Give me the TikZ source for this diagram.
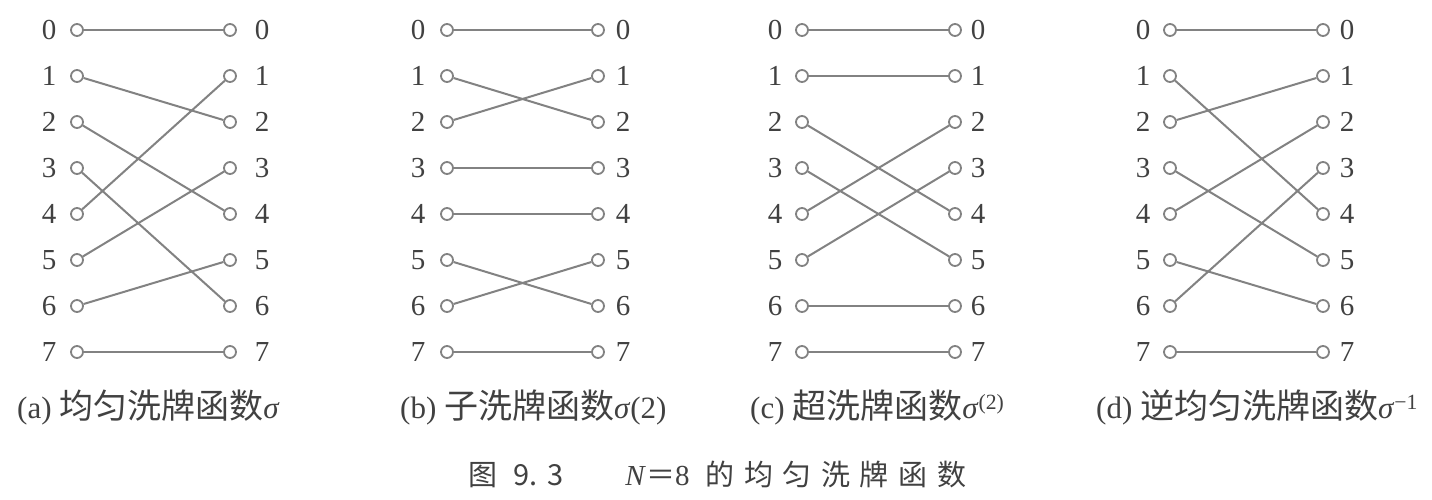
\documentclass[tikz,border=0pt]{standalone}
\usepackage{fontspec}
\setmainfont{Liberation Serif}
\newfontfamily\cjk{Noto Sans CJK SC}
\newfontfamily\cjkw[LetterSpace=33]{Noto Sans CJK SC}
\definecolor{txt}{RGB}{65,65,65}
\definecolor{ln}{RGB}{130,130,130}
\newcommand\shufpanel[6]{%
  \foreach \i in {0,...,7}{%
    \node[num] (#1ln\i) at (#2,{30+46*\i}) {\i};
    \node[pin] (#1l\i) at (#3,{30+46*\i}) {};
    \node[pin] (#1r\i) at (#4,{30+46*\i}) {};
    \node[num] (#1rn\i) at (#5,{30+46*\i}) {\i};
  }%
  \foreach \s/\t in {#6}{\draw[wire] (#1l\s) -- (#1r\t);}%
}
\newcommand\sig{\textit{σ}}
\newcommand\cjkcap[1]{{\cjk\fontsize{34}{34}\selectfont #1}}
\begin{document}
\begin{tikzpicture}[x=1pt,y=-1pt,
  pin/.style={circle,draw=ln,fill=white,line width=1.8pt,minimum size=12pt,inner sep=0pt},
  num/.style={text=txt,font=\fontsize{29}{29}\selectfont,inner sep=0pt},
  wire/.style={draw=ln,line width=2pt},
  captxt/.style={text=txt,font=\fontsize{31}{31}\selectfont,anchor=west,inner sep=0pt}]
\useasboundingbox (0,0) rectangle (1432,500);
\fill[white] (0,0) rectangle (1432,500);
\shufpanel{a}{49}{77}{230}{262}{0/0,1/2,2/4,3/6,4/1,5/3,6/5,7/7}
\shufpanel{b}{418}{447}{598}{623}{0/0,1/2,2/1,3/3,4/4,5/6,6/5,7/7}
\shufpanel{c}{775}{802}{955}{978}{0/0,1/1,2/4,3/5,4/2,5/3,6/6,7/7}
\shufpanel{d}{1143}{1170}{1323}{1347}{0/0,1/4,2/1,3/5,4/2,5/6,6/3,7/7}
\node[captxt] (capa) at (17,407) {(a) \cjkcap{均匀洗牌函数}\sig};
\node[captxt] (capb) at (400,407) {(b) \cjkcap{子洗牌函数}\sig(2)};
\node[captxt] (capc) at (750,407) {(c) \cjkcap{超洗牌函数}\sig\textsuperscript{(2)}};
\node[captxt] (capd) at (1096,407) {(d) \cjkcap{逆均匀洗牌函数}\sig\textsuperscript{−1}};
\node[captxt,font=\fontsize{29}{29}\selectfont] (fig) at (468,474)
  {{\cjk 图}\hspace{16pt}{\cjk 9.}\hspace{10pt}{\cjk 3}\hspace{62pt}\textit{N}{\cjk ＝}8\hspace{16pt}{\cjkw 的均匀洗牌函数}};
\end{tikzpicture}
\end{document}
